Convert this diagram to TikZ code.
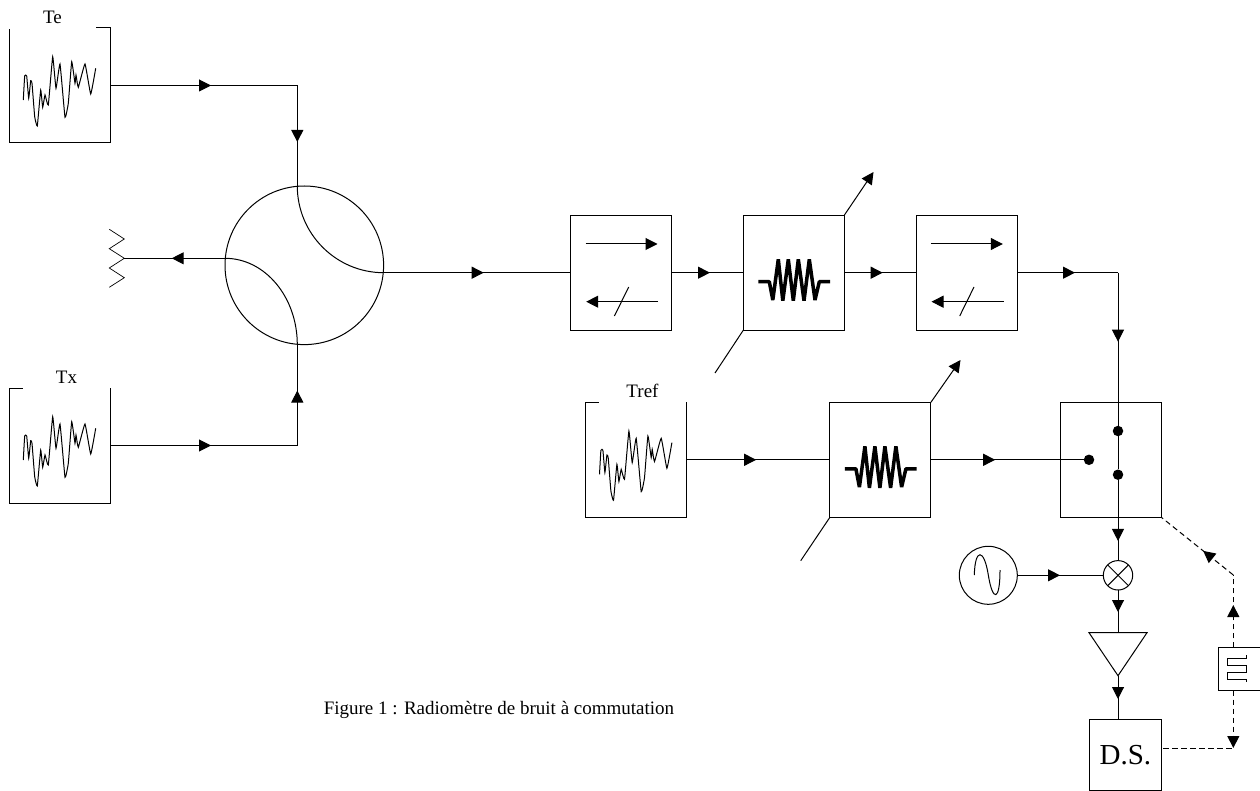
\documentclass[tikz,border=0pt]{standalone}
\usepackage{fontspec}
\setmainfont{Liberation Serif}
\usetikzlibrary{arrows.meta,decorations.markings}

\tikzset{
	wire/.style = {line width = 1pt},
	dashwire/.style = {line width = 1pt, dash pattern = on 5.5pt off 3.5pt},
	flowtip/.style = {postaction = {decorate}, decoration = {markings, mark = at position #1 with {\arrow{Triangle[length = 12pt, width = 12pt]}}}},
	squarebox/.style = {draw, wire, fill = white, inner sep = 0, outer sep = 0, minimum width = 101pt, minimum height = 115pt},
	tag/.style = {fill = white, inner sep = 0, minimum width = 87pt, minimum height = 24pt, font = \fontsize{19}{19}\selectfont},
	dot/.style = {circle, fill = black, inner sep = 0, outer sep = 0, minimum size = 10.5pt},
	round/.style = {circle, draw, wire, inner sep = 0, outer sep = 0}
}

\newcommand{\noisewave}[1]{
	\draw[wire, shift = {(#1)}] plot[smooth, tension = .2] coordinates {(-36.2,14.5) (-34.8,-9.5) (-32.8,-9.5) (-30.8,12.8) (-28.8,-4.8) (-27.5,-2.2) (-24.8,31.2) (-22.2,40.5) (-18.8,4.5) (-16.8,21.8) (-14.5,9.5) (-11.2,19.5) (-6.8,-28.8) (-3.5,2.8) (.5,-21.5) (5.5,31.8) (8.8,17.8) (12.2,-23.8) (15.5,-2.2) (16.5,-10.5) (18.8,1.8) (25.5,-21.5) (31.2,8.5) (36.2,-17.2)};
}
\newcommand{\attenwave}[1]{
	\draw[line width = 3.5pt, line join = bevel, shift = {(#1)}] (-35.5,9) -- (-24.5,9) -- (-21,27.3) -- (-15.5,-13.4) -- (-11,28) -- (-5.5,-13.4) -- (-.5,28) -- (4.5,-13.4) -- (10.2,28) -- (15.5,-13.4) -- (21.2,27.3) -- (25.5,9) -- (36.2,9);
}
\newcommand{\isoarrows}[1]{
	\draw[wire, -{Triangle[length = 12pt, width = 12pt]}, shift = {(#1)}] (-35.7,-28.7) -- (36.3,-28.7);
	\draw[wire, -{Triangle[length = 12pt, width = 12pt]}, shift = {(#1)}] (37,29) -- (-35,29);
	\draw[wire, shift = {(#1)}] (7.5,14.3) -- (-6.8,43.3);
}

\begin{document}
\begin{tikzpicture}[x = 1pt, y = -1pt]
		\useasboundingbox (0,0) rectangle (1260,791);
		
		\node[squarebox] (te) at (59.5,85.5) {};
		\node[squarebox] (tx) at (59.5,445.5) {};
		\node[squarebox] (tref) at (635.7,459.8) {};
		\node[tag] (telabel) at (52.5,17) {Te};
		\node[tag] (txlabel) at (66.5,377) {Tx};
		\node[tag] (treflabel) at (642.5,391) {Tref};
		\noisewave{te.center}
		\noisewave{tx.center}
		\noisewave{tref.center}
		
		\node[round, minimum size = 158.6pt] (circ) at (304.3,265.3) {};
		\coordinate (circn) at (297.3,186);
		\coordinate (circs) at (297.3,344.7);
		\coordinate (circw) at (225,258.3);
		\coordinate (circe) at (383.7,272.7);
		\draw[wire] (circn) .. controls (297.3,233.7) and (336,272.7) .. (circe);
		\draw[wire] (circw) .. controls (265,258.3) and (297.3,297) .. (circs);
		
		\coordinate (tecorner) at (297.3,85.5);
		\coordinate (txcorner) at (297.3,445.5);
		\draw[wire, flowtip = 101pt] (te.east) -- (tecorner);
		\draw[wire, flowtip = 56.5pt] (tecorner) -- (circn);
		\draw[wire, flowtip = 101pt] (tx.east) -- (txcorner);
		\draw[wire, flowtip = 55pt] (txcorner) -- (circs);
		
		\coordinate (load) at (124.3,258.3);
		\draw[wire, flowtip = 53.3pt] (circw) -- (load);
		\draw[line width = .7pt] (109.3,229.3) -- (124.3,239) -- (109.3,248.7) -- (load) -- (109.3,268) -- (124.3,277.7) -- (109.3,287.3);
		
		\node[squarebox] (isoa) at (621.2,272.7) {};
		\node[squarebox] (atta) at (793.8,272.7) {};
		\node[squarebox] (isob) at (966.5,272.7) {};
		\node[squarebox] (atb) at (880.4,459.8) {};
		\node[squarebox] (switch) at (1110.8,459.8) {};
		\isoarrows{isoa.center}
		\isoarrows{isob.center}
		\attenwave{atta.center}
		\attenwave{atb.center}
		
		\draw[wire, flowtip = 100pt] (circe) -- (isoa.west);
		\draw[wire, flowtip = 38.3pt] (isoa.east) -- (atta.west);
		\draw[wire, flowtip = 38.4pt] (atta.east) -- (isob.west);
		
		\coordinate (attatop) at (873.5,172);
		\coordinate (attalow) at (715,373);
		\coordinate (atbtop) at (960.5,360);
		\coordinate (atblow) at (800.7,560.7);
		\draw[wire, -{Triangle[length = 12pt, width = 12pt]}] (atta.north east) -- (attatop);
		\draw[wire] (atta.south west) -- (attalow);
		\draw[wire, -{Triangle[length = 12pt, width = 12pt]}] (atb.north east) -- (atbtop);
		\draw[wire] (atb.south west) -- (atblow);
		
		\node[dot] (conta) at (1118,431) {};
		\node[dot] (contb) at (1118,474.7) {};
		\node[dot] (contc) at (1089,459.8) {};
		\coordinate (isocorner) at (1118,272.7);
		\draw[wire, flowtip = 58pt] (isob.east) -- (isocorner);
		\draw[wire, flowtip = 69pt] (isocorner) -- (conta);
		\draw[wire] (conta) -- (contb);
		\draw[wire, flowtip = 70pt] (tref.east) -- (atb.west);
		\draw[wire, flowtip = 64.3pt] (atb.east) -- (contc);
		
		\node[round, minimum size = 29.4pt] (mixer) at (1118,575.3) {};
		\draw[wire] (mixer.north west) -- (mixer.south east);
		\draw[wire] (mixer.north east) -- (mixer.south west);
		\node[round, minimum size = 58pt] (osc) at (988.3,575.3) {};
		\draw[wire] (974.3,575) .. controls (975,548) and (984,548) .. (988.3,575) .. controls (992.6,602) and (1000,602) .. (1000,570);
		\draw[wire, flowtip = 61pt] (contb) -- (mixer.north);
		\draw[wire, flowtip = 42.7pt] (osc.east) -- (mixer.west);
		
		\coordinate (ampin) at (1118,632.7);
		\coordinate (ampout) at (1118,675.7);
		\draw[wire] (1089,632.7) -- (1147,632.7) -- (ampout) -- cycle;
		\draw[wire, flowtip = 22pt] (mixer.south) -- (ampin);
		
		\node[squarebox, minimum width = 72.7pt, minimum height = 71.5pt, font = \fontsize{29}{29}\selectfont] (ds) at (1125.4,754.8) {\raisebox{-1.5pt}{D.S.}};
		\draw[wire, flowtip = 23.3pt] (ampout) -- (ds.north -| ampout);
		
		\node[squarebox, minimum width = 48pt, minimum height = 43.4pt] (pulse) at (1242.3,669) {};
		\draw[line width = .7pt] (1246,655) -- (1246,658.3) -- (1227.7,658.3) -- (1227.7,665.3) -- (1246,665.3) -- (1246,672) -- (1227.7,672) -- (1227.7,679.3) -- (1246,679.3) -- (1246,681.7);
		
		\coordinate (pulsetop) at (1233.3,647.3);
		\coordinate (pulselow) at (1233.3,690.7);
		\coordinate (dsout) at (1163,748);
		\coordinate (dscorner) at (1233.3,748);
		\coordinate (swcorner) at (1233.3,575);
		\draw[dashwire, flowtip = 42.3pt] (pulsetop) -- (swcorner);
		\draw[dashwire, flowtip = 38.6pt] (swcorner) -- (switch.south east);
		\draw[dashwire] (dsout) -- (dscorner);
		\draw[dashwire, -{Triangle[length = 12pt, width = 12pt]}] (pulselow) -- (dscorner);
		
		\node[inner sep = 0, font = \fontsize{19}{19}\selectfont] (caption) at (499,710) {Figure 1 : Radiomètre de bruit à commutation};
		\end{tikzpicture}
\end{document}
